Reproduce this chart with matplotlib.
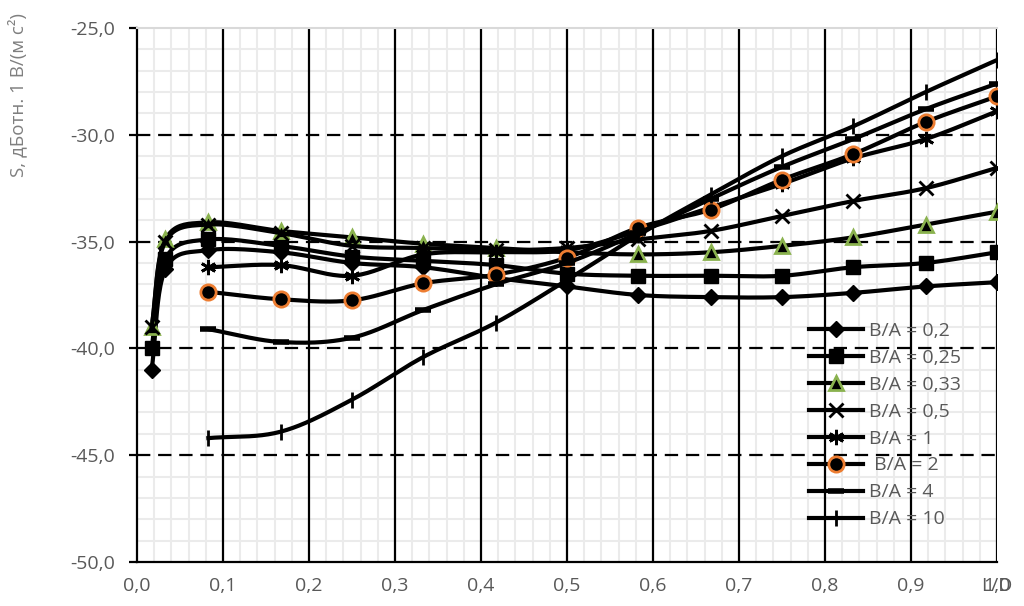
import numpy as np
import matplotlib
matplotlib.use('Agg')
import matplotlib.pyplot as plt
from matplotlib.ticker import MultipleLocator, FuncFormatter

plt.rcParams['font.family'] = ['Open Sans', 'DejaVu Sans']

# L/D points
ld_full = [0.017, 0.033, 0.083, 0.167, 0.25, 0.333, 0.417, 0.5, 0.583, 0.667, 0.75, 0.833, 0.917, 1.0]
ld_short = ld_full[2:]

s_02 = [-41.0, -36.3, -35.4, -35.5, -36.0, -36.2, -36.7, -37.1, -37.5, -37.6, -37.6, -37.4, -37.1, -36.9]
s_025 = [-40.0, -35.8, -34.9, -35.2, -35.7, -35.9, -36.1, -36.5, -36.6, -36.6, -36.6, -36.2, -36.0, -35.5]
s_033 = [-39.0, -34.9, -34.1, -34.5, -34.8, -35.1, -35.3, -35.5, -35.6, -35.5, -35.2, -34.8, -34.2, -33.6]
s_05 = [-39.0, -35.0, -34.2, -34.6, -35.2, -35.3, -35.4, -35.3, -34.9, -34.5, -33.8, -33.1, -32.5, -31.55]
s_1 = [-36.2, -36.1, -36.6, -35.6, -35.5, -35.4, -34.5, -33.4, -32.3, -31.1, -30.2, -28.9]
s_2 = [-37.35, -37.7, -37.75, -36.95, -36.55, -35.75, -34.35, -33.5, -32.1, -30.9, -29.4, -28.2]
s_4 = [-39.1, -39.7, -39.5, -38.2, -37.0, -36.0, -34.6, -33.0, -31.5, -30.2, -28.8, -27.6]
s_10 = [-44.2, -43.9, -42.4, -40.4, -38.8, -36.8, -34.7, -32.8, -31.0, -29.6, -28.0, -26.5]

labels = ['B/A = 0,2', 'B/A = 0,25', 'B/A = 0,33', 'B/A = 0,5', 'B/A = 1', ' B/A = 2', 'B/A = 4', 'B/A = 10']


def smooth(x, y, n=24):
    # catmull-rom, roughly what excel does with "smoothed line"
    x = np.asarray(x, float)
    y = np.asarray(y, float)
    px = np.concatenate([[2 * x[0] - x[1]], x, [2 * x[-1] - x[-2]]])
    py = np.concatenate([[2 * y[0] - y[1]], y, [2 * y[-1] - y[-2]]])
    xs, ys = [], []
    t = np.linspace(0, 1, n)
    for i in range(1, len(px) - 2):
        for arr, out in ((px, xs), (py, ys)):
            p0, p1, p2, p3 = arr[i - 1], arr[i], arr[i + 1], arr[i + 2]
            out.extend(0.5 * ((2 * p1) + (-p0 + p2) * t
                              + (2 * p0 - 5 * p1 + 4 * p2 - p3) * t ** 2
                              + (-p0 + 3 * p1 - 3 * p2 + p3) * t ** 3))
    return xs, ys


fig = plt.figure(figsize=(10.24, 6.06), dpi=100)
ax = fig.add_axes([0.1338, 0.0726, 0.8398, 0.8812])

series = [
    (ld_full, s_02, dict(marker='D', ms=8, mfc='black', mec='black')),
    (ld_full, s_025, dict(marker='s', ms=10, mfc='black', mec='black')),
    (ld_full, s_033, dict(marker='^', ms=10, mfc='black', mec='#8AB24E', mew=2)),
    (ld_full, s_05, dict(marker='x', ms=10, mec='black', mew=2)),
    (ld_short, s_1, dict(marker=(6, 2, 0), ms=11, mec='black', mew=2)),
    (ld_short, s_2, dict(marker='o', ms=11, mfc='black', mec='#ED7D31', mew=2)),
    (ld_short, s_4, dict(marker='_', ms=12, mec='black', mew=4)),
    (ld_short, s_10, dict(marker='|', ms=11, mec='black', mew=2)),
]

handles = []
for i, (xv, yv, st) in enumerate(series):
    xs, ys = smooth(xv, yv)
    ax.plot(xs, ys, color='black', lw=3, zorder=3 + i)
    ax.plot(xv, yv, ls='none', zorder=3 + i, **st)
    h, = ax.plot([], [], color='black', lw=3, **st)
    handles.append(h)

ax.set_xlim(0, 1.0)
ax.set_ylim(-50, -25)

ax.xaxis.set_major_locator(MultipleLocator(0.1))
ax.xaxis.set_minor_locator(MultipleLocator(0.02))
ax.yaxis.set_major_locator(MultipleLocator(5))
ax.yaxis.set_minor_locator(MultipleLocator(1))
ax.xaxis.set_major_formatter(FuncFormatter(lambda v, p: f"{v:.1f}".replace('.', ',')))
ax.yaxis.set_major_formatter(FuncFormatter(lambda v, p: f"{v:.1f}".replace('.', ',')))

ax.grid(which='minor', color='#EBEBEB', lw=1.5, zorder=0)
ax.set_axisbelow(True)
for xv in np.arange(0.1, 1.01, 0.1):
    ax.axvline(xv, color='black', lw=1.6, zorder=1)
for yv in [-30, -35, -40, -45]:
    ax.axhline(yv, color='black', lw=1.6, ls=(0, (6, 3.5)), zorder=1)

ax.spines['top'].set_color('#D9D9D9')
ax.spines['top'].set_linewidth(1.5)
ax.spines['right'].set_visible(False)
ax.spines['left'].set_linewidth(1.6)
ax.spines['bottom'].set_linewidth(1.6)
ax.tick_params(axis='y', which='major', length=6, width=1.6, direction='out',
               labelsize=14, labelcolor='#595959', pad=10)
ax.tick_params(axis='x', which='major', length=0, labelsize=14, labelcolor='#595959', pad=11)
ax.tick_params(which='minor', length=0)

ax.annotate('L/D', xy=(1.0, 0), xycoords=('data', 'axes fraction'), xytext=(0, -11),
            textcoords='offset points', ha='center', va='top', fontsize=14, color='#595959')

fig.text(17 / 1024, 1 - 95 / 606, 'S, дБотн. 1 В/(м с²)', rotation=90, ha='center', va='center',
         fontsize=13.5, color='#7F7F7F')

leg = fig.legend(handles, labels, loc='upper left', bbox_to_anchor=(799 / 1024, 1 - 312 / 606),
                 bbox_transform=fig.transFigure, frameon=False, borderpad=0,
                 fontsize=14, labelcolor='#595959', handlelength=2.8, handletextpad=0.3,
                 labelspacing=0.46)
leg.set_zorder(20)

fig.savefig('out.png', dpi=100)
